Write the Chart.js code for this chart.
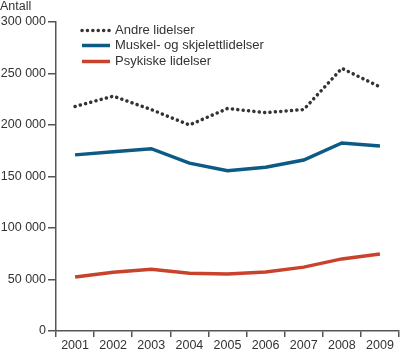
<!DOCTYPE html>
<html>
<head>
<meta charset="utf-8">
<script src="https://cdn.jsdelivr.net/npm/chart.js@4"></script>
<style>
  html, body { margin: 0; padding: 0; background: #fff; }
  #wrap { width: 400px; height: 352px; }
</style>
</head>
<body>
<div id="wrap"><canvas id="chart" width="400" height="352"></canvas></div>
<script>
// Data
const years = ['2001', '2002', '2003', '2004', '2005', '2006', '2007', '2008', '2009'];
const andre = [218000, 228000, 215000, 200000, 216000, 212000, 215000, 255000, 237000];
const muskel = [171000, 174000, 177000, 163000, 155500, 159000, 166000, 182500, 179500];
const psykiske = [52500, 57000, 60000, 56000, 55300, 57300, 62000, 70000, 74700];
const yTicks = [0, 50000, 100000, 150000, 200000, 250000, 300000];

const textColor = '#333';
const axisColor = '#555';
const fontFamily = 'Arial, "Liberation Sans", Helvetica, sans-serif';

function fmt(v) {
    return String(v).replace(/\B(?=(\d{3})+(?!\d))/g, ' ');
}

// Draws "Antall" and the legend inside the plot
const extras = {
    id: 'extras',
    afterDraw(chart) {
        const ctx = chart.ctx;
        ctx.save();
        ctx.fillStyle = textColor;
        ctx.font = '12.5px ' + fontFamily;
        ctx.textBaseline = 'middle';
        ctx.textAlign = 'left';
        ctx.fillText('Antall', 0, 7);

        const rows = [30.5, 45.5, 61.5];
        chart.data.datasets.forEach((ds, i) => {
            const y = rows[i];
            ctx.beginPath();
            ctx.strokeStyle = ds.borderColor;
            ctx.lineWidth = ds.borderWidth;
            ctx.lineCap = ds.borderDash ? 'round' : 'butt';
            ctx.setLineDash(ds.borderDash || []);
            ctx.moveTo(82, y);
            ctx.lineTo(110, y);
            ctx.stroke();
            ctx.setLineDash([]);
            ctx.font = '13px ' + fontFamily;
            ctx.fillStyle = textColor;
            ctx.fillText(ds.label, 115, y);
        });
        ctx.restore();
    }
};

new Chart(document.getElementById('chart'), {
    type: 'line',
    data: {
        labels: years,
        datasets: [
            {
                label: 'Andre lidelser',
                data: andre,
                borderColor: '#333333',
                borderWidth: 3.5,
                borderDash: [0.1, 5.3],
                borderCapStyle: 'round',
                pointRadius: 0,
                tension: 0
            },
            {
                label: 'Muskel- og skjelettlidelser',
                data: muskel,
                borderColor: '#0d5a84',
                borderWidth: 3.5,
                pointRadius: 0,
                tension: 0
            },
            {
                label: 'Psykiske lidelser',
                data: psykiske,
                borderColor: '#c9432c',
                borderWidth: 3.5,
                pointRadius: 0,
                tension: 0
            }
        ]
    },
    options: {
        responsive: false,
        animation: false,
        layout: { padding: { top: 22, right: 1, left: 0, bottom: 0 } },
        plugins: {
            legend: { display: false },
            tooltip: { enabled: false }
        },
        scales: {
            x: {
                offset: true,
                grid: {
                    offset: true,
                    drawOnChartArea: false,
                    drawTicks: true,
                    tickLength: 6,
                    color: axisColor,
                    lineWidth: 1.5
                },
                border: { display: true, color: axisColor, width: 1.5 },
                ticks: {
                    color: textColor,
                    font: { size: 12.5, family: fontFamily },
                    padding: 1,
                    maxRotation: 0,
                    autoSkip: false
                },
                afterFit(scale) { scale.height = 21; }
            },
            y: {
                min: 0,
                max: 300000,
                afterBuildTicks(scale) {
                    scale.ticks = yTicks.map(v => ({ value: v }));
                },
                grid: {
                    drawOnChartArea: false,
                    drawTicks: true,
                    tickLength: 8,
                    color: axisColor,
                    lineWidth: 1.5
                },
                border: { display: true, color: axisColor, width: 1.5 },
                ticks: {
                    color: textColor,
                    font: { size: 12.5, family: fontFamily },
                    padding: 2,
                    callback: v => fmt(v)
                },
                afterFit(scale) { scale.width = 56; }
            }
        }
    },
    plugins: [extras]
});
</script>
</body>
</html>
